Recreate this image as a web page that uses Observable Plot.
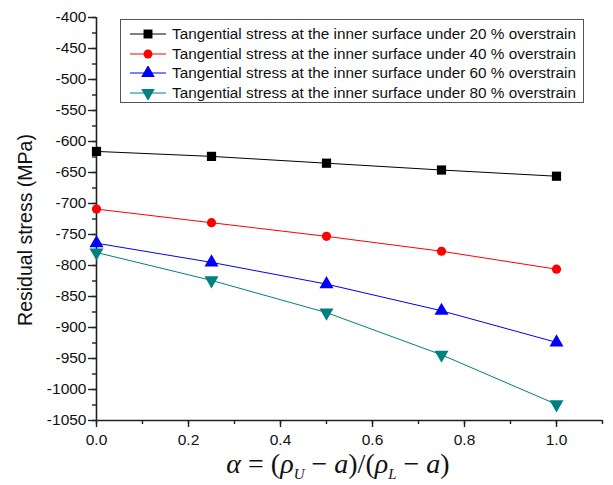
<!DOCTYPE html>
<html><head><meta charset="utf-8">
<script src="https://cdn.jsdelivr.net/npm/d3@7"></script>
<script src="https://cdn.jsdelivr.net/npm/@observablehq/plot@0.6"></script>
<style>
body{margin:0;background:#fff;}
#wrap{position:relative;width:613px;height:485px;font-family:Arial,"Liberation Sans",sans-serif;overflow:hidden;}
#legend{position:absolute;left:120px;top:19px;width:464px;height:84px;border:1px solid #555;background:#fff;box-sizing:border-box;}
.row{position:absolute;left:0;height:20px;display:flex;align-items:center;font-size:15.3px;color:#111;white-space:nowrap;}
.row svg{margin-left:9px;margin-right:6px;}
#xlabel{position:absolute;left:338px;top:448px;transform:translateX(-50%);white-space:nowrap;font-family:"Liberation Serif","DejaVu Serif",serif;font-size:28px;color:#111;}
#xlabel i{font-style:italic;}
#xlabel sub{font-size:15px;font-style:italic;vertical-align:-6px;}
</style></head>
<body><div id="wrap"></div>
<script>
const alphas = [0, 0.25, 0.5, 0.75, 1.0];
const s20 = [-616, -624, -635, -646, -656];
const s40 = [-709, -731, -753, -777, -806];
const s60 = [-764, -795, -830, -873, -924];
const s80 = [-779, -824, -876, -944, -1024];
const seriesNames = [
  "Tangential stress at the inner surface under 20 % overstrain",
  "Tangential stress at the inner surface under 40 % overstrain",
  "Tangential stress at the inner surface under 60 % overstrain",
  "Tangential stress at the inner surface under 80 % overstrain"
];
const colors = ["#000000", "#ff0000", "#0000ff", "#008080"];
const symbols = ["square", "circle", "triangle", "triangle"];
const rotations = [0, 0, 0, 180];
const yTicks = d3.range(-1050, -399, 50);
const yMinor = d3.range(-1050, -399, 25);
const xTicks = [0, 0.2, 0.4, 0.6, 0.8, 1.0];
const xMinor = d3.range(0, 1.101, 0.1);

const allSeries = [s20, s40, s60, s80];
const data = allSeries.flatMap((vals, i) => vals.map((v, j) => ({x: alphas[j], y: v, s: i})));

const marks = [];
allSeries.forEach((vals, i) => {
  const d = data.filter(p => p.s === i);
  marks.push(Plot.line(d, {x: "x", y: "y", stroke: colors[i], strokeWidth: 1}));
  marks.push(Plot.dot(d, {x: "x", y: "y", fill: colors[i], stroke: "none", symbol: symbols[i], r: i===1?4.6:5.2, rotate: rotations[i]}));
});

const blank = () => "";
const chart = Plot.plot({
  width: 613, height: 485,
  marginLeft: 96, marginRight: 11, marginTop: 17, marginBottom: 65,
  style: {fontFamily: "Arial, 'Liberation Sans', sans-serif", fontSize: "15.5px", color: "#111", background: "#fff"},
  x: {domain: [0, 1.1]},
  y: {domain: [-1050, -400]},
  marks: [
    Plot.axisY({ticks: yMinor, tickSize: 4, tickFormat: blank, label: null, stroke: "#222", strokeWidth: 1.4}),
    Plot.axisY({ticks: yTicks, tickSize: 8, tickPadding: 2, tickFormat: d => String(d), label: null, stroke: "#222", strokeWidth: 1.4, fontSize: 15.5}),
    Plot.axisX({ticks: xMinor, tickSize: 4, tickFormat: blank, label: null, stroke: "#222", strokeWidth: 1.4}),
    Plot.axisX({ticks: xTicks, tickSize: 7, tickPadding: 6, tickFormat: d3.format(".1f"), label: null, stroke: "#222", strokeWidth: 1.4, fontSize: 15.5}),
    Plot.ruleX([0], {stroke: "#222", strokeWidth: 1.6}),
    Plot.ruleY([-1050], {stroke: "#222", strokeWidth: 1.6}),
    ...marks
  ]
});

const wrap = document.getElementById("wrap");
wrap.appendChild(chart);

// y label
const yl = document.createElement("div");
yl.textContent = "Residual stress (MPa)";
yl.style.cssText = "position:absolute;left:25px;top:230px;transform:translate(-50%,-50%) rotate(-90deg);font-size:19.5px;white-space:nowrap;color:#111;";
wrap.appendChild(yl);

// legend
const lg = document.createElement("div");
lg.id = "legend";
seriesNames.forEach((name, i) => {
  const row = document.createElement("div");
  row.className = "row";
  row.style.top = (4 + i * 19.7) + "px";
  const sym = d3.symbol().type(i===0 ? d3.symbolSquare : i===1 ? d3.symbolCircle : d3.symbolTriangle).size(i===1?62:80)();
  row.innerHTML = `<svg width="36" height="14"><line x1="0" x2="36" y1="7" y2="7" stroke="${colors[i]}" stroke-width="1"/><path d="${sym}" transform="translate(18,7) rotate(${rotations[i]})" fill="${colors[i]}"/></svg><span>${name}</span>`;
  lg.appendChild(row);
});
wrap.appendChild(lg);

// x label
const xl = document.createElement("div");
xl.id = "xlabel";
xl.innerHTML = "<i>α</i> = (<i>ρ</i><sub>U</sub> − <i>a</i>)/(<i>ρ</i><sub>L</sub> − <i>a</i>)";
wrap.appendChild(xl);
</script></body></html>
